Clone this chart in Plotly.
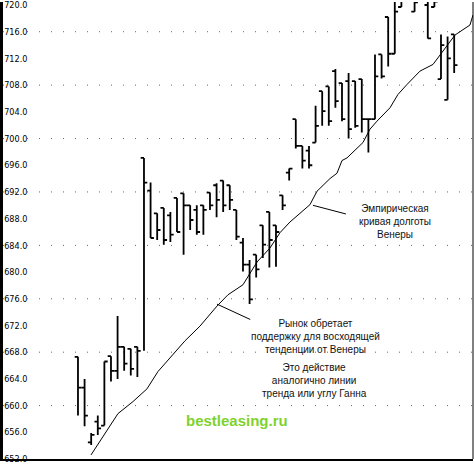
import plotly.graph_objects as go

# ---- bar data (session index, high, low, open, close) ----
sessions = [1, 2, 3, 4, 5, 6, 7, 8, 9, 10,
            11, 12, 13, 14, 15, 16, 17, 18, 19, 20,
            21, 22, 23, 24, 25, 26, 27, 28, 29, 30,
            31, 32, 33, 34, 35, 36, 37, 38, 39, 40,
            41, 42, 43, 44, 45, 46, 47, 48, 49, 50,
            52, 54, 55, 56, 57, 58]
highs = [667.3, 664.0, 655.9, 658.5, 666.6, 667.4, 673.4, 668.8, 668.5, 668.8,
         697.1, 693.4, 688.8, 689.6, 689.0, 691.1, 691.8, 690.0, 690.0, 690.0,
         691.9, 693.3, 693.7, 693.0, 689.3, 685.1, 681.8, 682.6, 687.0, 689.0,
         687.0, 691.5, 695.5, 702.9, 698.9, 698.9, 704.9, 707.1, 707.8, 710.4,
         708.3, 709.8, 708.6, 708.9, 702.9, 712.6, 712.6, 718.2, 721.2, 722.0,
         722.5, 721.5, 722.0, 715.6, 715.3, 715.6]
lows = [658.5, 656.9, 654.1, 655.6, 657.0, 663.6, 664.0, 665.2, 664.5, 664.3,
        668.2, 685.1, 684.8, 684.1, 684.5, 686.0, 682.6, 686.3, 685.6, 685.6,
        689.3, 688.2, 689.0, 689.3, 684.8, 680.1, 675.2, 679.2, 682.1, 680.7,
        680.8, 689.3, 693.7, 698.5, 695.5, 695.5, 699.4, 701.9, 701.9, 704.6,
        702.6, 700.0, 701.6, 700.9, 697.9, 702.9, 709.0, 710.8, 712.7, 719.7,
        719.0, 715.0, 719.7, 708.9, 705.8, 709.8]
opens = [667.3, 662.7, 654.5, 657.6, 657.0, 667.4, 665.2, 668.8, 668.5, 668.8,
         697.1, 692.2, 688.8, 689.6, 688.5, 691.1, 691.8, 690.0, 689.3, 690.0,
         691.9, 693.0, 693.7, 693.0, 689.3, 684.4, 681.1, 682.6, 687.0, 689.0,
         687.0, 691.5, 694.9, 702.9, 698.9, 698.2, 699.4, 707.1, 707.8, 710.1,
         708.3, 708.6, 708.6, 708.9, 702.9, 702.9, 712.6, 718.2, 712.7, 719.7,
         719.0, 720.0, 719.7, 708.9, 705.8, 715.6]
closes = [662.7, 658.5, 655.6, 656.6, 666.6, 665.2, 668.8, 666.3, 665.5, 668.2,
          693.4, 685.1, 686.3, 684.8, 685.6, 686.0, 690.0, 687.8, 686.0, 689.3,
          690.0, 690.8, 690.0, 690.8, 685.3, 681.1, 675.9, 680.4, 684.1, 684.8,
          686.0, 690.0, 695.5, 698.9, 696.7, 696.0, 701.9, 704.1, 702.6, 705.6,
          702.9, 701.4, 701.9, 702.9, 702.9, 709.3, 709.3, 712.7, 719.0, 721.0,
          720.4, 715.0, 720.5, 714.0, 712.0, 711.0]

# ---- empirical Venus longitude curve ----
curve_x = [2.97, 4.33, 5.85, 7.06, 9.33, 11.45, 13.12, 17.21, 19.48, 22.06,
           23.73, 26.0, 28.12, 30.09, 31.61, 33.12, 34.64, 36.15, 37.21, 39.18,
           40.24, 41.0, 41.76, 44.18, 45.24, 46.3, 48.27, 49.48, 50.85, 52.82,
           54.79, 58.12, 60.39, 60.85]
curve_y = [652.6, 654.7, 657.0, 658.8, 660.6, 662.5, 665.1, 669.7, 671.9, 674.9,
           676.6, 678.1, 681.5, 683.6, 685.9, 687.5, 688.8, 690.1, 692.1, 694.0,
           694.8, 696.7, 697.1, 699.4, 701.4, 702.6, 704.6, 706.6, 708.1, 710.1,
           711.1, 715.5, 717.0, 718.5]

# ---- axis ticks ----
tick_vals = [652 + 4 * i for i in range(18)]
tick_text = ["%.1f" % v for v in tick_vals]
grid_levels = [660, 668, 676, 684, 692, 700, 708, 716]

fig = go.Figure()
fig.add_trace(go.Ohlc(
    x=sessions, open=opens, high=highs, low=lows, close=closes,
    increasing=dict(line=dict(color="black", width=1.8)),
    decreasing=dict(line=dict(color="black", width=1.8)),
    tickwidth=0.5, showlegend=False, hoverinfo="skip",
))
fig.add_trace(go.Scatter(
    x=curve_x, y=curve_y, mode="lines",
    line=dict(color="black", width=1), showlegend=False, hoverinfo="skip",
))

for lv in grid_levels:
    fig.add_hline(y=lv, line=dict(color="#666", width=1, dash="1px,11px"), layer="below")

txt_font = dict(family="Liberation Sans, Arial, sans-serif", size=10, color="#111")
fig.add_annotation(x=49.0, y=687.6, xref="x", yref="y",
                   text="Эмпирическая<br>кривая долготы<br>Венеры",
                   showarrow=False, font=txt_font, align="center")
fig.add_annotation(x=37.0, y=670.3, xref="x", yref="y",
                   text="Рынок обретает<br>поддержку для восходящей<br>тенденции от Венеры",
                   showarrow=False, font=txt_font, align="center")
fig.add_annotation(x=36.8, y=666.9, xref="x", yref="y", yanchor="top",
                   text="Это действие<br>аналогично линии<br>тренда или углу Ганна",
                   showarrow=False, font=txt_font, align="center")
fig.add_annotation(x=0.497, y=0.062, xref="paper", yref="paper",
                   text="<b>bestleasing.ru</b>", showarrow=False,
                   font=dict(family="Liberation Sans, Arial, sans-serif", size=15, color="#7fd22c"))

# pointer lines
fig.add_shape(type="line", xref="x", yref="y", x0=36.6, y0=690.0, x1=41.6, y1=688.7,
              line=dict(color="black", width=1))
fig.add_shape(type="line", xref="x", yref="y", x0=22.06, y0=675.2, x1=27.1, y1=672.9,
              line=dict(color="black", width=1))
# right border
fig.add_shape(type="line", xref="paper", yref="paper", x0=1, x1=1, y0=0, y1=1,
              line=dict(color="black", width=1))

fig.update_layout(
    width=474, height=464,
    margin=dict(l=3, r=1, t=0, b=3),
    paper_bgcolor="white", plot_bgcolor="white",
    xaxis=dict(range=[-10.36, 60.85], showgrid=False, zeroline=False,
               showticklabels=False, ticks="", showline=True, linecolor="black",
               linewidth=2, rangeslider=dict(visible=False)),
    yaxis=dict(range=[652, 720.45], showgrid=False, zeroline=False,
               tickvals=tick_vals, ticktext=tick_text, ticks="",
               ticklabelposition="inside", ticklabeloverflow="allow",
               tickfont=dict(family="Liberation Sans Narrow, Arial Narrow, DejaVu Sans Condensed, sans-serif",
                             size=9, color="black"),
               showline=True, linecolor="black", linewidth=3),
)

fig.write_html("out.html", config={"displayModeBar": False},
               post_script="document.body.style.margin='0';document.body.style.padding='0';")
